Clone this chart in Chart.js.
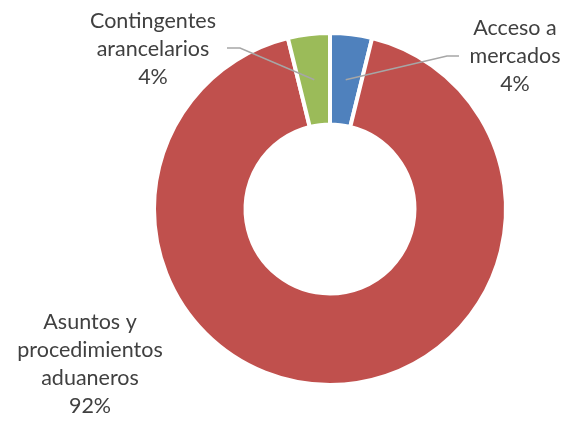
<!DOCTYPE html>
<html>
<head>
<meta charset="utf-8">
<script src="https://cdn.jsdelivr.net/npm/chart.js@4/dist/chart.umd.min.js"></script>
<style>
  html, body { margin: 0; padding: 0; background: #fff; }
  #wrap { width: 566px; height: 423px; }
</style>
</head>
<body>
<div id="wrap"><canvas id="chart" width="566" height="423"></canvas></div>
<script>
// categories and counts, clockwise from 12 o'clock
const categories = [
  ['Acceso a', 'mercados'],
  ['Asuntos y', 'procedimientos', 'aduaneros'],
  ['Contingentes', 'arancelarios']
];
const counts = [1, 24, 1];
const colors = ['#4F81BD', '#C0504D', '#9BBB59'];

const TEXT_COLOR = '#404040';
const FONT = '21.5px Lato, "Open Sans", sans-serif';
const LINE_H = 28;

// where each label block sits (center x, first line y) and its leader elbow
const labelSpots = [
  { x: 515, y: 28, leader: [[459, 56], [447, 56]] },
  { x: 90, y: 322, leader: null },
  { x: 153, y: 21, leader: [[227, 48], [240, 48]] }
];

const total = counts.reduce((a, b) => a + b, 0);

const calloutLabels = {
  id: 'calloutLabels',
  afterDatasetsDraw(chart) {
    const ctx = chart.ctx;
    const arcs = chart.getDatasetMeta(0).data;
    ctx.save();
    // leader lines into the thin slices
    ctx.strokeStyle = '#A6A6A6';
    ctx.lineWidth = 1.5;
    labelSpots.forEach((spot, i) => {
      if (!spot.leader) return;
      const p = arcs[i].tooltipPosition();
      ctx.beginPath();
      ctx.moveTo(spot.leader[0][0], spot.leader[0][1]);
      ctx.lineTo(spot.leader[1][0], spot.leader[1][1]);
      ctx.lineTo(p.x, p.y);
      ctx.stroke();
    });
    // category name + percentage
    ctx.fillStyle = TEXT_COLOR;
    ctx.font = FONT;
    ctx.textAlign = 'center';
    ctx.textBaseline = 'middle';
    labelSpots.forEach((spot, i) => {
      const pct = Math.round(counts[i] / total * 100) + '%';
      const lines = categories[i].concat([pct]);
      lines.forEach((t, k) => ctx.fillText(t, spot.x, spot.y + k * LINE_H));
    });
    ctx.restore();
  }
};

new Chart(document.getElementById('chart'), {
  type: 'doughnut',
  data: {
    labels: categories.map(c => c.join(' ')),
    datasets: [{
      data: counts,
      backgroundColor: colors,
      borderColor: '#ffffff',
      borderWidth: 4
    }]
  },
  options: {
    responsive: false,
    animation: false,
    cutout: '48%',
    layout: { padding: { left: 152, right: 58, top: 31, bottom: 36 } },
    plugins: {
      legend: { display: false },
      tooltip: { enabled: false }
    }
  },
  plugins: [calloutLabels]
});
</script>
</body>
</html>
